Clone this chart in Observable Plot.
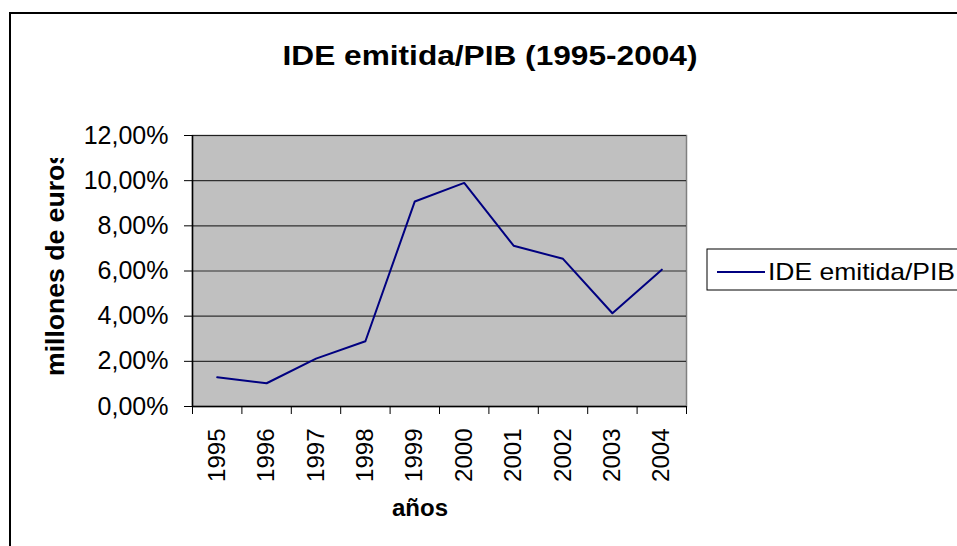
<!DOCTYPE html>
<html>
<head>
<meta charset="utf-8">
<script src="https://cdn.jsdelivr.net/npm/d3@7"></script>
<script src="https://cdn.jsdelivr.net/npm/@observablehq/plot@0.6"></script>
<style>
  html, body { margin: 0; padding: 0; background: #fff; }
  #chart { width: 957px; height: 546px; overflow: hidden; }
</style>
</head>
<body>
<div id="chart"></div>
<script>
const title = "IDE emitida/PIB (1995-2004)";
const xLabel = "años";
const yLabel = "millones de euros";
const seriesName = "IDE emitida/PIB";
const years = ["1995", "1996", "1997", "1998", "1999", "2000", "2001", "2002", "2003", "2004"];
const values = [1.30, 1.03, 2.12, 2.89, 9.08, 9.90, 7.12, 6.54, 4.13, 6.06]; // percent
const yTicks = [0, 2, 4, 6, 8, 10, 12];

const data = years.map((year, i) => ({year, i, value: values[i]}));
const fmtPct = d => d.toFixed(2).replace(".", ",") + "%";
const bounds = d3.range(years.length + 1);
const centers = d3.range(years.length).map(i => i + 0.5);

const W = 957, H = 546;
const mL = 192, mR = W - 686, mT = 135, mB = H - 406;

const plot = Plot.plot({
  width: W,
  height: H,
  marginLeft: mL,
  marginRight: mR,
  marginTop: mT,
  marginBottom: mB,
  style: {fontFamily: "'Liberation Sans', Arial, sans-serif", fontSize: "23px", background: "#fff", color: "#000", overflow: "visible"},
  x: {type: "linear", domain: [0, years.length]},
  y: {domain: [0, 12]},
  marks: [
    Plot.frame({fill: "#c0c0c0", stroke: "#808080", strokeWidth: 1.5}),
    Plot.gridY(yTicks.slice(1), {stroke: "#000", strokeOpacity: 0.75, strokeWidth: 1.2}),
    Plot.ruleX([0], {stroke: "#000", strokeWidth: 1.5}),
    Plot.ruleY([0], {stroke: "#000", strokeWidth: 1.5}),
    Plot.axisY(yTicks, {tickSize: 8, tickPadding: 16, tickFormat: fmtPct, label: null, stroke: "#000", fontSize: 25}),
    Plot.axisX(bounds, {tickSize: 8, tickFormat: () => "", label: null}),
    Plot.axisX(centers, {tickSize: 0, tickPadding: 22, tickRotate: -90, tickFormat: d => years[Math.floor(d)], label: null, fontSize: 24}),
    Plot.line(data, {x: d => d.i + 0.5, y: "value", stroke: "#000080", strokeWidth: 2})
  ]
});

document.getElementById("chart").appendChild(plot);

const svg = d3.select(plot);

// outer chart border
svg.append("rect")
  .attr("x", 10).attr("y", 13).attr("width", 1000).attr("height", 600)
  .attr("fill", "none").attr("stroke", "#000").attr("stroke-width", 2);

// title
svg.append("text")
  .attr("x", 490).attr("y", 65)
  .attr("text-anchor", "middle")
  .attr("font-weight", "bold").attr("font-size", 27)
  .attr("textLength", 415).attr("lengthAdjust", "spacingAndGlyphs")
  .text(title);

// x axis title
svg.append("text")
  .attr("x", 420).attr("y", 516)
  .attr("text-anchor", "middle")
  .attr("font-weight", "bold").attr("font-size", 24)
  .text(xLabel);

// y axis title (clipped at top like the original)
svg.append("defs").append("clipPath").attr("id", "yclip")
  .append("rect").attr("x", 0).attr("y", 158).attr("width", 120).attr("height", 400);
svg.append("g").attr("clip-path", "url(#yclip)")
  .append("text")
  .attr("transform", "translate(64,376) rotate(-90)")
  .attr("text-anchor", "start")
  .attr("font-weight", "bold").attr("font-size", 25)
  .attr("textLength", 226).attr("lengthAdjust", "spacingAndGlyphs")
  .text(yLabel);

// legend
const lg = svg.append("g");
lg.append("rect")
  .attr("x", 707).attr("y", 249).attr("width", 400).attr("height", 41)
  .attr("fill", "#fff").attr("stroke", "#000").attr("stroke-width", 1);
lg.append("line")
  .attr("x1", 717).attr("x2", 765).attr("y1", 272).attr("y2", 272)
  .attr("stroke", "#000080").attr("stroke-width", 2);
lg.append("text")
  .attr("x", 768).attr("y", 280)
  .attr("text-anchor", "start")
  .attr("font-size", 24)
  .attr("textLength", 187).attr("lengthAdjust", "spacingAndGlyphs")
  .text(seriesName);
</script>
</body>
</html>
